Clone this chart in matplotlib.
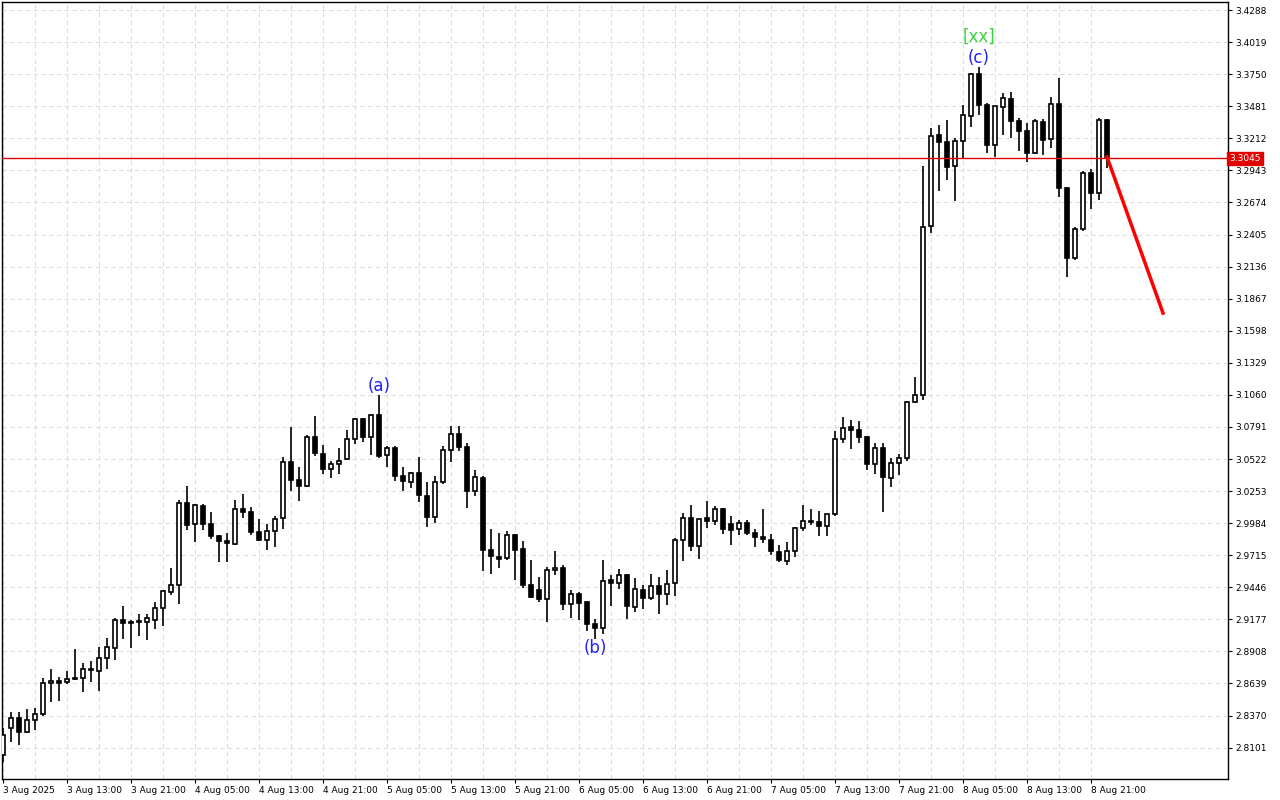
import matplotlib.pyplot as plt
import numpy as np

# OHLC hourly candles
opens = [2.8038, 2.8264, 2.8348, 2.8231, 2.8331, 2.8382, 2.8642, 2.8658, 2.8650, 2.8684,
         2.8684, 2.8759, 2.8742, 2.8851, 2.8935, 2.9170, 2.9154, 2.9154, 2.9154, 2.9170,
         2.9271, 2.9405, 2.9464, 3.0152, 2.9976, 3.0127, 2.9976, 2.9875, 2.9833, 2.9808,
         3.0101, 3.0076, 2.9909, 2.9841, 2.9917, 3.0026, 3.0496, 3.0345, 3.0294, 3.0705,
         3.0563, 3.0437, 3.0479, 3.0521, 3.0689, 3.0857, 3.0705, 3.0890, 3.0555, 3.0613,
         3.0378, 3.0328, 3.0404, 3.0211, 3.0034, 3.0328, 3.0596, 3.0731, 3.0622, 3.0253,
         3.0362, 2.9757, 2.9699, 2.9690, 2.9883, 2.9766, 2.9464, 2.9422, 2.9346, 2.9590,
         2.9607, 2.9304, 2.9388, 2.9321, 2.9137, 2.9103, 2.9506, 2.9481, 2.9548, 2.9279,
         2.9422, 2.9355, 2.9455, 2.9388, 2.9481, 2.9841, 3.0026, 2.9791, 3.0026, 3.0001,
         3.0101, 2.9976, 2.9934, 2.9984, 2.9900, 2.9867, 2.9841, 2.9741, 2.9665, 2.9749,
         2.9942, 2.9992, 2.9992, 2.9959, 3.0060, 3.0689, 3.0789, 3.0764, 3.0705, 3.0479,
         3.0613, 3.0362, 3.0487, 3.0529, 3.1000, 3.1058, 3.2476, 3.3239, 3.3181, 3.2979,
         3.3189, 3.3399, 3.3751, 3.3491, 3.3155, 3.3474, 3.3541, 3.3357, 3.3273, 3.3088,
         3.3348, 3.3206, 3.3499, 3.2795, 3.2207, 3.2451, 3.2920, 3.2753, 3.3365]
highs = [2.8264, 2.8398, 2.8398, 2.8423, 2.8432, 2.8684, 2.8759, 2.8692, 2.8742, 2.8927,
         2.8809, 2.8826, 2.8944, 2.9019, 2.9187, 2.9288, 2.9170, 2.9221, 2.9221, 2.9321,
         2.9422, 2.9606, 3.0177, 3.0294, 3.0143, 3.0143, 3.0076, 2.9883, 2.9900, 3.0177,
         3.0227, 3.0118, 3.0017, 2.9976, 3.0043, 3.0538, 3.0789, 3.0454, 3.0722, 3.0882,
         3.0638, 3.0504, 3.0613, 3.0764, 3.0865, 3.0865, 3.0899, 3.1058, 3.0630, 3.0630,
         3.0454, 3.0412, 3.0538, 3.0328, 3.0378, 3.0630, 3.0798, 3.0798, 3.0655, 3.0429,
         3.0378, 2.9934, 2.9900, 2.9917, 2.9892, 2.9833, 2.9674, 2.9531, 2.9615, 2.9749,
         2.9632, 2.9422, 2.9405, 2.9330, 2.9179, 2.9674, 2.9548, 2.9598, 2.9557, 2.9523,
         2.9464, 2.9557, 2.9531, 2.9590, 2.9858, 3.0068, 3.0135, 3.0017, 3.0169, 3.0127,
         3.0110, 3.0043, 3.0009, 3.0009, 2.9934, 3.0101, 2.9892, 2.9799, 2.9825, 2.9950,
         3.0135, 3.0101, 3.0085, 3.0060, 3.0756, 3.0873, 3.0848, 3.0840, 3.0714, 3.0655,
         3.0655, 3.0529, 3.0563, 3.1008, 3.1209, 3.2979, 3.3298, 3.3323, 3.3365, 3.3214,
         3.3491, 3.3760, 3.3810, 3.3508, 3.3483, 3.3592, 3.3600, 3.3382, 3.3340, 3.3373,
         3.3373, 3.3558, 3.3718, 3.2803, 3.2467, 3.2937, 3.2954, 3.3382, 3.3373]
lows = [2.7979, 2.8147, 2.8121, 2.8222, 2.8247, 2.8365, 2.8482, 2.8490, 2.8633, 2.8667,
        2.8566, 2.8650, 2.8574, 2.8759, 2.8834, 2.9011, 2.8935, 2.9036, 2.9002, 2.9095,
        2.9120, 2.9380, 2.9304, 2.9925, 2.9825, 2.9925, 2.9850, 2.9657, 2.9657, 2.9799,
        3.0026, 2.9883, 2.9833, 2.9757, 2.9783, 2.9934, 3.0253, 3.0169, 3.0286, 3.0546,
        3.0395, 3.0362, 3.0395, 3.0513, 3.0647, 3.0664, 3.0555, 3.0529, 3.0454, 3.0336,
        3.0253, 3.0278, 3.0160, 2.9950, 2.9984, 3.0311, 3.0496, 3.0588, 3.0110, 3.0211,
        2.9581, 2.9556, 2.9607, 2.9674, 2.9506, 2.9439, 2.9355, 2.9322, 2.9153, 2.9548,
        2.9254, 2.9187, 2.9170, 2.9078, 2.9011, 2.9053, 2.9288, 2.9430, 2.9179, 2.9237,
        2.9263, 2.9338, 2.9221, 2.9296, 2.9372, 2.9665, 2.9749, 2.9682, 2.9942, 2.9967,
        2.9892, 2.9799, 2.9883, 2.9883, 2.9783, 2.9816, 2.9715, 2.9657, 2.9632, 2.9699,
        2.9917, 2.9967, 2.9875, 2.9875, 3.0043, 3.0655, 3.0605, 3.0655, 3.0429, 3.0395,
        3.0076, 3.0286, 3.0387, 3.0504, 3.0991, 3.1016, 3.2417, 3.2770, 3.2862, 3.2686,
        3.3046, 3.3306, 3.3407, 3.3088, 3.3055, 3.3239, 3.3214, 3.3105, 3.3013, 3.3080,
        3.3071, 3.3130, 3.2719, 3.2048, 3.2191, 3.2434, 3.2618, 3.2694, 3.2963]
closes = [2.8205, 2.8348, 2.8231, 2.8331, 2.8382, 2.8642, 2.8658, 2.8642, 2.8675, 2.8675,
          2.8759, 2.8751, 2.8851, 2.8944, 2.9170, 2.9145, 2.9145, 2.9162, 2.9187, 2.9271,
          2.9414, 2.9464, 3.0152, 2.9967, 3.0135, 2.9976, 2.9875, 2.9833, 2.9816, 3.0101,
          3.0076, 2.9909, 2.9841, 2.9917, 3.0017, 3.0496, 3.0345, 3.0294, 3.0705, 3.0571,
          3.0437, 3.0479, 3.0504, 3.0689, 3.0857, 3.0705, 3.0890, 3.0546, 3.0613, 3.0378,
          3.0336, 3.0404, 3.0219, 3.0034, 3.0328, 3.0596, 3.0731, 3.0622, 3.0253, 3.0370,
          2.9757, 2.9707, 2.9682, 2.9883, 2.9757, 2.9464, 2.9363, 2.9346, 2.9590, 2.9607,
          2.9304, 2.9388, 2.9313, 2.9137, 2.9103, 2.9497, 2.9481, 2.9548, 2.9288, 2.9430,
          2.9355, 2.9455, 2.9388, 2.9472, 2.9841, 3.0026, 2.9791, 3.0017, 3.0001, 3.0101,
          2.9934, 2.9925, 2.9984, 2.9900, 2.9867, 2.9850, 2.9749, 2.9674, 2.9749, 2.9942,
          3.0001, 2.9992, 2.9959, 3.0060, 3.0689, 3.0781, 3.0764, 3.0705, 3.0479, 3.0613,
          3.0370, 3.0487, 3.0529, 3.1000, 3.1058, 3.2467, 3.3231, 3.3181, 3.2971, 3.3189,
          3.3407, 3.3751, 3.3491, 3.3155, 3.3483, 3.3550, 3.3357, 3.3273, 3.3088, 3.3357,
          3.3197, 3.3499, 3.2795, 3.2207, 3.2451, 3.2920, 3.2753, 3.3365, 3.3055]

price_ticks = [2.8101, 2.8370, 2.8639, 2.8908, 2.9177, 2.9446, 2.9715, 2.9984, 3.0253,
               3.0522, 3.0791, 3.1060, 3.1329, 3.1598, 3.1867, 3.2136, 3.2405, 3.2674,
               3.2943, 3.3212, 3.3481, 3.3750, 3.4019, 3.4288]
time_labels = ['3 Aug 2025', '3 Aug 13:00', '3 Aug 21:00', '4 Aug 05:00', '4 Aug 13:00',
               '4 Aug 21:00', '5 Aug 05:00', '5 Aug 13:00', '5 Aug 21:00', '6 Aug 05:00',
               '6 Aug 13:00', '6 Aug 21:00', '7 Aug 05:00', '7 Aug 13:00', '7 Aug 21:00',
               '8 Aug 05:00', '8 Aug 13:00', '8 Aug 21:00']
current_price = 3.3045
forecast_end = 3.1746
waves = [('(a)', 47, 3.1133), ('(b)', 74, 2.8935), ('(c)', 122, 3.3885)]

fig = plt.figure(figsize=(12.8, 8), dpi=100)
ax = fig.add_axes([0.0016, 0.026, 0.9578, 0.9714])

x = np.arange(len(opens))
o = np.array(opens); c = np.array(closes)
ax.vlines(x, lows, highs, color='black', linewidth=1.2, zorder=3)
bull = c >= o
bottom = np.minimum(o, c)
height = np.maximum(np.abs(c - o), 0.0006)
ax.bar(x[bull], height[bull], bottom=bottom[bull], width=0.6, color='white',
       edgecolor='black', linewidth=1.2, zorder=4)
ax.bar(x[~bull], height[~bull], bottom=bottom[~bull], width=0.6, color='black',
       edgecolor='black', linewidth=1.2, zorder=4)

ax.axhline(current_price, color='#e00000', linewidth=1, zorder=5)
ax.plot([len(opens) - 1, len(opens) + 6], [closes[-1], forecast_end], color='#ff0000',
        linewidth=2.5, zorder=6)

for name, i, p in waves:
    ax.text(i, p, name, color='#2020ff', fontsize=12, ha='center', va='center')
ax.text(122, 3.4062, '[xx]', color='#40d040', fontsize=12, ha='center', va='center')

ax.set_xlim(-0.125, -0.125 + 1226 / 8)
ax.set_ylim(2.7836, 3.4355)

ax.yaxis.tick_right()
ax.set_yticks(price_ticks)
ax.set_yticklabels(['%.4f' % t for t in price_ticks], fontsize=6.5)
ax.tick_params(axis='y', length=3, pad=2)
ax.set_xticks(np.arange(0, len(opens), 4), minor=True)
ax.set_xticks(np.arange(0, 8 * len(time_labels), 8))
ax.set_xticklabels(time_labels, fontsize=6.5, ha='left')
ax.tick_params(axis='x', length=3, pad=2)
ax.tick_params(axis='x', which='minor', length=0)
ax.grid(True, which='both', color='#dddddd', linestyle=(0, (4, 3)), linewidth=0.8)
ax.set_axisbelow(True)
for s in ax.spines.values():
    s.set_linewidth(1)

ax.text(1.001, current_price, '3.3045', transform=ax.get_yaxis_transform(),
        fontsize=6.5, color='white', va='center', ha='left',
        bbox=dict(boxstyle='square,pad=0.2', fc='#e00000', ec='#e00000'))

fig.savefig('out.png', dpi=100)
